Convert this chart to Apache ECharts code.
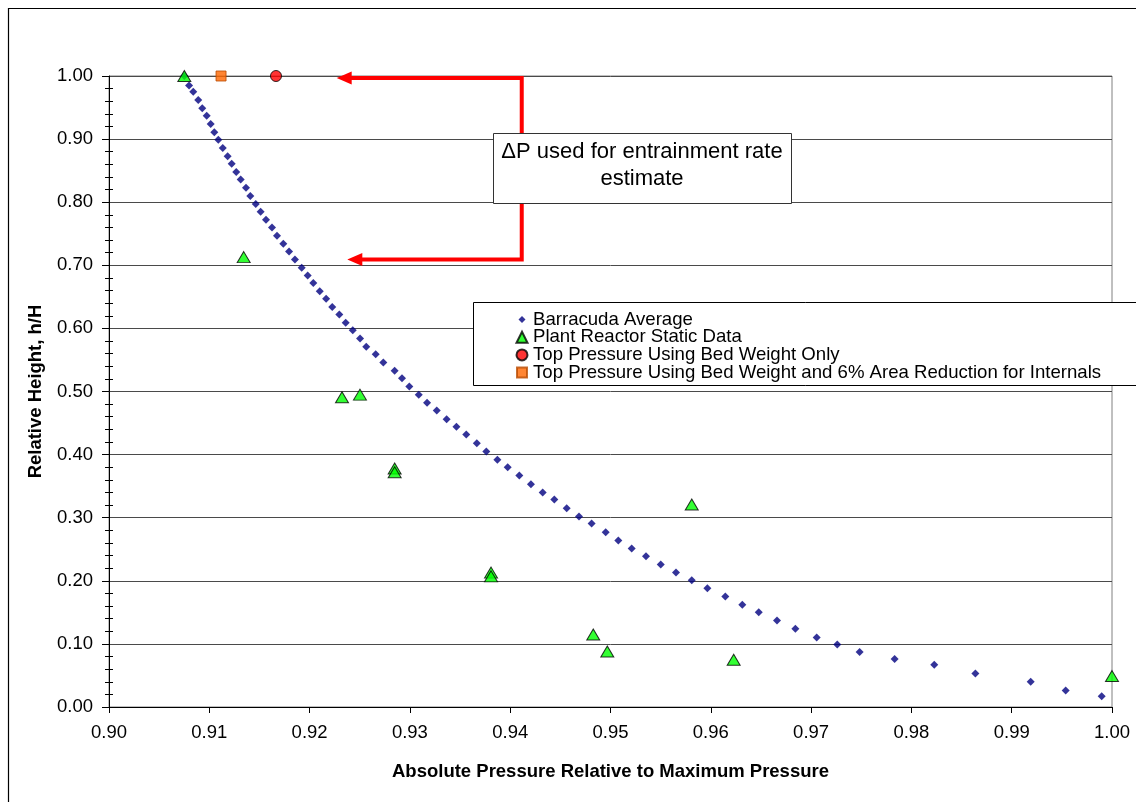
<!DOCTYPE html>
<html><head><meta charset="utf-8">
<script src="https://cdn.jsdelivr.net/npm/echarts@6/dist/echarts.min.js"></script>
<style>html,body{margin:0;padding:0;background:#fff}#c{width:1136px;height:802px}</style>
</head><body><div id="c"></div>
<script>
// ---- data ----
const barracudaX = [0.90751,0.90798,0.90840,0.90890,0.90930,0.90974,0.91014,0.91050,0.91090,0.91134,
  0.91183,0.91223,0.91269,0.91313,0.91366,0.91409,0.91463,0.91512,0.91565,0.91625,
  0.91675,0.91738,0.91795,0.91854,0.91921,0.91981,0.92037,0.92101,0.92165,0.92226,
  0.92296,0.92360,0.92430,0.92503,0.92565,0.92659,0.92735,0.92848,0.92921,0.92994,
  0.93088,0.93171,0.93268,0.93366,0.93464,0.93562,0.93667,0.93762,0.93872,0.93975,
  0.94091,0.94207,0.94324,0.94440,0.94563,0.94686,0.94812,0.94952,0.95078,0.95211,
  0.95354,0.95501,0.95653,0.95810,0.95966,0.96145,0.96314,0.96478,0.96660,0.96843,
  0.97056,0.97261,0.97484,0.97833,0.98228,0.98638,0.99189,0.99538,0.99897];
const barracudaY = [1.000,0.985,0.975,0.962,0.949,0.937,0.924,0.911,0.899,0.886,
  0.873,0.861,0.848,0.836,0.823,0.810,0.797,0.785,0.772,0.760,
  0.747,0.734,0.722,0.709,0.696,0.684,0.672,0.659,0.647,0.634,
  0.622,0.609,0.597,0.584,0.571,0.559,0.546,0.533,0.521,0.508,
  0.495,0.482,0.470,0.456,0.444,0.432,0.418,0.405,0.392,0.380,
  0.367,0.353,0.340,0.329,0.315,0.302,0.291,0.277,0.264,0.251,
  0.239,0.226,0.213,0.201,0.188,0.175,0.162,0.150,0.137,0.124,
  0.110,0.099,0.087,0.076,0.067,0.053,0.040,0.026,0.017];
const plantX = [0.90751,0.91343,0.92323,0.92502,0.92848,0.92848,0.93809,0.93809,0.94828,0.94968,0.95810,0.96228,1.00000];
const plantY = [1.000,0.713,0.491,0.495,0.378,0.372,0.213,0.207,0.115,0.088,0.321,0.075,0.049];
const bedOnlyX = [0.91665];
const bedOnlyY = [1.000];
const bedAreaX = [0.91117];
const bedAreaY = [1.000];
const seriesNames = ['Barracuda Average','Plant Reactor Static Data','Top Pressure Using Bed Weight Only','Top Pressure Using Bed Weight and 6% Area Reduction for Internals'];
const xTitle = 'Absolute Pressure Relative to Maximum Pressure';
const yTitle = 'Relative Height, h/H';
const noteText = '\u0394P used for entrainment rate\nestimate';
// arrow anchors (data coordinates)
const arrowTopY = 0.997, arrowBotY = 0.709, arrowVX = 0.94115, arrowTopTipX = 0.92270, arrowBotTipX = 0.92376;

const zip = (xs, ys) => xs.map((x, i) => [x, ys[i]]);
const FF = '"Liberation Sans", Arial, sans-serif';

const chart = echarts.init(document.getElementById('c'), null, {renderer: 'canvas'});
const option = {
  animation: false,
  backgroundColor: '#fff',
  textStyle: {fontFamily: FF},
  grid: {left: 109, right: 24, top: 76, bottom: 95, show: true, borderColor: '#808080', borderWidth: 1},
  xAxis: {
    type: 'value', min: 0.9, max: 1.0, interval: 0.01,
    axisLine: {show: true, onZero: false, lineStyle: {color: '#000', width: 1}},
    axisTick: {show: true, length: 6, lineStyle: {color: '#000'}},
    axisLabel: {color: '#000', fontSize: 18.5, fontFamily: FF, margin: 16, showMinLabel: true, showMaxLabel: true,
      formatter: v => v.toFixed(2)},
    splitLine: {show: false},
    name: xTitle, nameLocation: 'middle', nameGap: 55,
    nameTextStyle: {fontWeight: 'bold', fontSize: 18.5, color: '#000', fontFamily: FF}
  },
  yAxis: [{
    type: 'value', min: 0, max: 1, interval: 0.1, position: 'left',
    axisLine: {show: true, onZero: false, lineStyle: {color: '#000', width: 1}},
    axisTick: {show: true, length: 7, lineStyle: {color: '#000'}},
    minorTick: {show: true, splitNumber: 5, length: 4, lineStyle: {color: '#000'}},
    axisLabel: {color: '#000', fontSize: 18.5, fontFamily: FF, margin: 16, showMinLabel: true, showMaxLabel: true,
      formatter: v => v.toFixed(2)},
    splitLine: {show: true, lineStyle: {color: '#4a4a4a', width: 1}},
    name: yTitle, nameLocation: 'middle', nameGap: 64, nameRotate: 90,
    nameTextStyle: {fontWeight: 'bold', fontSize: 18.5, color: '#000', fontFamily: FF}
  }, {
    type: 'value', min: 0, max: 1, interval: 0.1, position: 'left', offset: 0,
    axisLine: {show: false},
    axisTick: {show: false, inside: true},
    minorTick: {show: true, splitNumber: 5, length: 4, lineStyle: {color: '#000'}},
    axisLabel: {show: false},
    splitLine: {show: false}
  }],
  legend: {
    orient: 'vertical', left: 515, top: 310, padding: 0, itemGap: -1.3,
    itemWidth: 12, itemHeight: 12, selectedMode: false, z: 10,
    textStyle: {fontSize: 18.6, fontFamily: FF, color: '#000', lineHeight: 17.7},
    data: [
      {name: seriesNames[0], icon: 'path://M0,0M12,12M6,2.5L9.5,6L6,9.5L2.5,6Z'},
      {name: seriesNames[1], icon: 'path://M0,0M12,12M6,0.5L11.5,11.5L0.5,11.5Z'},
      {name: seriesNames[2], icon: 'path://M0,0M12,12M11.5,6A5.5,5.5,0,1,1,0.5,6A5.5,5.5,0,1,1,11.5,6Z'},
      {name: seriesNames[3], icon: 'path://M0,0M12,12M1,1L11,1L11,11L1,11Z'}
    ]
  },
  series: [
    {name: seriesNames[0], type: 'scatter', yAxisIndex: 0, symbol: 'diamond', symbolSize: 8,
      itemStyle: {color: '#000080'}, data: zip(barracudaX, barracudaY)},
    {name: seriesNames[1], type: 'scatter', yAxisIndex: 0, symbol: 'triangle', symbolSize: [13, 11],
      itemStyle: {color: '#00FF00', borderColor: '#000', borderWidth: 1}, data: zip(plantX, plantY)},
    {name: seriesNames[2], type: 'scatter', yAxisIndex: 0, symbol: 'circle', symbolSize: 11,
      itemStyle: {color: '#FF0000', borderColor: '#000', borderWidth: 1}, data: zip(bedOnlyX, bedOnlyY)},
    {name: seriesNames[3], type: 'scatter', yAxisIndex: 0, symbol: 'rect', symbolSize: 10,
      itemStyle: {color: '#FF6600', borderColor: '#B84A00', borderWidth: 1}, data: zip(bedAreaX, bedAreaY)}
  ]
};
chart.setOption(option);

const px = (x, y) => chart.convertToPixel({xAxisIndex: 0, yAxisIndex: 0}, [x, y]);
const tTop = px(arrowTopTipX, arrowTopY);
const tBot = px(arrowBotTipX, arrowBotY);
const vTop = px(arrowVX, arrowTopY);
const vBot = px(arrowVX, arrowBotY);
const headL = 15, headW = 6.5;
chart.setOption({
  graphic: [
    {type: 'rect', z: 1, silent: true, shape: {x: 8.5, y: 8.5, width: 1300, height: 1000},
      style: {fill: 'none', stroke: '#000', lineWidth: 1.2}},
    {type: 'polyline', z: 5, silent: true,
      shape: {points: [[tTop[0] + 10, tTop[1]], [vTop[0], vTop[1]], [vBot[0], vBot[1]], [tBot[0] + 10, tBot[1]]]},
      style: {stroke: '#FF0000', lineWidth: 4, fill: 'none', lineJoin: 'miter'}},
    {type: 'polygon', z: 5, silent: true,
      shape: {points: [[tTop[0], tTop[1]], [tTop[0] + headL, tTop[1] - headW], [tTop[0] + headL, tTop[1] + headW]]},
      style: {fill: '#FF0000'}},
    {type: 'polygon', z: 5, silent: true,
      shape: {points: [[tBot[0], tBot[1]], [tBot[0] + headL, tBot[1] - headW], [tBot[0] + headL, tBot[1] + headW]]},
      style: {fill: '#FF0000'}},
    {type: 'rect', z: 6, silent: true, shape: {x: 493.5, y: 133.5, width: 298, height: 70},
      style: {fill: '#fff', stroke: '#333', lineWidth: 1}},
    {type: 'text', z: 7, silent: true, x: 642, y: 165,
      style: {text: noteText, fontSize: 22, fontFamily: FF, fill: '#000', align: 'center', verticalAlign: 'middle', lineHeight: 27}},
    {type: 'rect', z: 6, silent: true, shape: {x: 473.5, y: 302.5, width: 800, height: 83},
      style: {fill: '#fff', stroke: '#000', lineWidth: 1}}
  ]
});
</script>
</body></html>
